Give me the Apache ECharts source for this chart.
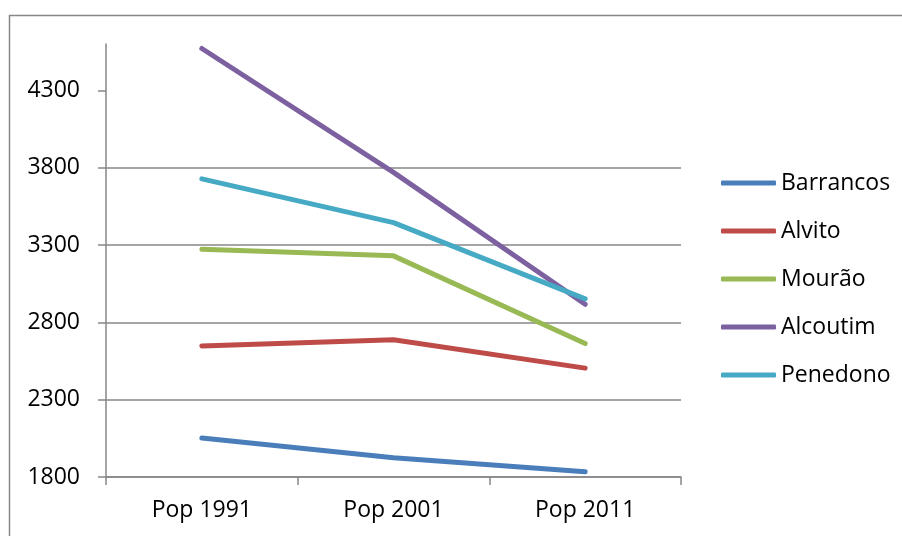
<!DOCTYPE html>
<html>
<head>
<meta charset="utf-8">
<script src="https://cdn.jsdelivr.net/npm/echarts@6/dist/echarts.min.js"></script>
<style>
  html, body { margin: 0; padding: 0; background: #fff; }
  #chart { width: 902px; height: 536px; }
</style>
</head>
<body>
<div id="chart"></div>
<script>
// Resident population by census year
const categories = ['Pop 1991', 'Pop 2001', 'Pop 2011'];
const barrancos = [2052, 1924, 1834];
const alvito = [2647, 2688, 2504];
const mourao = [3273, 3230, 2663];
const alcoutim = [4571, 3770, 2917];
const penedono = [3728, 3445, 2952];
const yTicks = [1800, 2300, 2800, 3300, 3800, 4300];

const seriesDefs = [
  { name: 'Barrancos', data: barrancos, color: '#4A7EBB' },
  { name: 'Alvito', data: alvito, color: '#BE4B48' },
  { name: 'Mourão', data: mourao, color: '#98B954' },
  { name: 'Alcoutim', data: alcoutim, color: '#7D60A0' },
  { name: 'Penedono', data: penedono, color: '#46AAC5' }
];

const font = '"Open Sans", "Noto Sans", sans-serif';
const gray = '#878787';

const chart = echarts.init(document.getElementById('chart'), null, { renderer: 'canvas' });
chart.setOption({
  animation: false,
  backgroundColor: '#ffffff',
  textStyle: { fontFamily: font, color: '#000' },
  graphic: [{
    type: 'rect',
    shape: { x: 9.5, y: 15.5, width: 1000, height: 1000 },
    style: { fill: 'none', stroke: gray, lineWidth: 1.5 },
    silent: true
  }],
  grid: { left: 106, right: 221, top: 44, bottom: 59, containLabel: false },
  legend: {
    orient: 'vertical',
    left: 721,
    top: 169,
    padding: 0,
    icon: 'roundRect',
    itemWidth: 55,
    itemHeight: 5,
    itemGap: 20,
    textStyle: { fontFamily: font, fontSize: 23, color: '#000', lineHeight: 28 },
    data: seriesDefs.map(s => s.name)
  },
  xAxis: {
    type: 'category',
    data: categories,
    boundaryGap: true,
    axisLine: { show: true, lineStyle: { color: gray, width: 1.5 } },
    axisTick: { show: true, inside: false, length: 8, lineStyle: { color: gray, width: 1.5 } },
    axisLabel: { fontFamily: font, fontSize: 23, color: '#000', margin: 22 },
    splitLine: { show: false }
  },
  yAxis: {
    type: 'value',
    min: 1800,
    max: 4600,
    interval: 500,
    axisLine: { show: true, lineStyle: { color: gray, width: 1.5 } },
    axisTick: { show: true, inside: false, length: 8, customValues: yTicks, lineStyle: { color: gray, width: 1.5 } },
    axisLabel: {
      fontFamily: font, fontSize: 23, color: '#000', margin: 26, customValues: yTicks,
      formatter: v => String(v)
    },
    splitLine: { show: true, showMaxLine: false, lineStyle: { color: gray, width: 1.5 } }
  },
  series: seriesDefs.map(s => ({
    name: s.name,
    type: 'line',
    data: s.data,
    symbol: 'none',
    showSymbol: false,
    color: s.color,
    itemStyle: { color: s.color },
    lineStyle: { color: s.color, width: 5, cap: 'round', join: 'round' }
  }))
});
</script>
</body>
</html>
